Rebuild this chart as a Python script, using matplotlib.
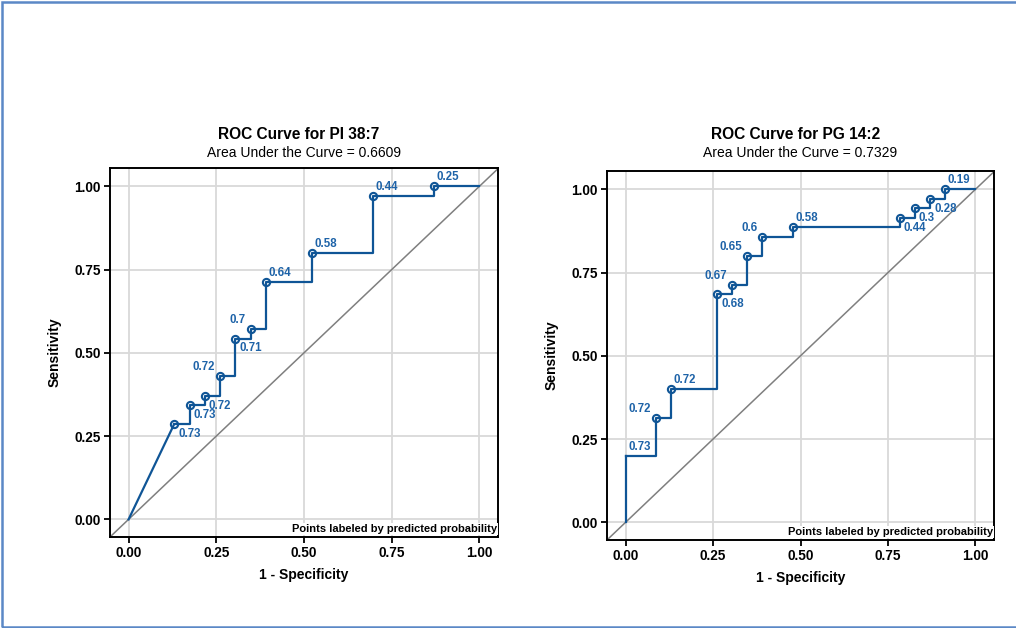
import numpy as np
import matplotlib.pyplot as plt
from matplotlib.patches import Rectangle

plt.rcParams['font.family'] = ['Liberation Sans', 'DejaVu Sans']

# ROC points: 1 - specificity, sensitivity, predicted-probability label
pi_fpr = [0.130, 0.174, 0.217, 0.261, 0.304, 0.348, 0.391, 0.522, 0.696, 0.870]
pi_sens = [0.286, 0.343, 0.371, 0.429, 0.543, 0.571, 0.714, 0.800, 0.971, 1.000]
pi_prob = ['0.73', '0.73', '0.72', '0.72', '0.71', '0.7', '0.64', '0.58', '0.44', '0.25']
pi_auc = 0.6609

pg_fpr = [0.000, 0.087, 0.130, 0.261, 0.304, 0.348, 0.391, 0.478, 0.783, 0.826, 0.870, 0.913]
pg_sens = [0.200, 0.314, 0.400, 0.686, 0.714, 0.800, 0.857, 0.886, 0.914, 0.943, 0.971, 1.000]
pg_prob = ['0.73', '0.72', '0.72', '0.68', '0.67', '0.65', '0.6', '0.58', '0.44', '0.3', '0.28', '0.19']
pg_auc = 0.7329

ticks = [0.0, 0.25, 0.5, 0.75, 1.0]
tick_labels = ['0.00', '0.25', '0.50', '0.75', '1.00']

# label placement (style only): ur = upper right, lr = lower right, ul = upper left
pi_pos = ['lr', 'lr', 'lr', 'ul', 'lr', 'ul', 'ur', 'ur', 'ur', 'ur']
pg_pos = ['ur', 'ul', 'ur', 'lr', 'ul', 'ul', 'ul', 'ur', 'lr', 'lr', 'lr', 'ur']
offsets = {'ur': ((2, 6.5), 'left'), 'lr': ((3, -7), 'left'), 'ul': ((-3.5, 6.5), 'right')}

line_col = '#0f5596'
lab_col = '#1e63a8'
W, H = 1016, 628


def roc_panel(rect, fpr, sens, probs, pos, title, auc):
    ax = fig.add_axes(rect)
    fpr = np.array(fpr)
    sens = np.array(sens)
    ax.axline((0, 0), (1, 1), color='#7f7f7f', lw=1.1, zorder=2)
    ax.plot([0, fpr[0]], [0, sens[0]], color=line_col, lw=1.6, zorder=3)
    ax.plot(np.append(fpr, 1.0), np.append(sens, sens[-1]), color=line_col,
            lw=1.6, drawstyle='steps-post', zorder=3)
    m = fpr > 0
    ax.plot(fpr[m], sens[m], 'o', ms=5.2, mfc='none', mec=line_col, mew=1.5, zorder=4)
    for x, y, s, p in zip(fpr, sens, probs, pos):
        off, ha = offsets[p]
        ax.annotate(s, (x, y), xytext=off, textcoords='offset points', ha=ha,
                    va='center', fontsize=8.3, fontweight='bold', color=lab_col, zorder=5)
    ax.set_xlim(-0.053, 1.053)
    ax.set_ylim(-0.053, 1.055)
    ax.set_xticks(ticks, tick_labels)
    ax.set_yticks(ticks, tick_labels)
    ax.tick_params(direction='out', length=4.5, width=1.3, pad=2, labelsize=9.8)
    for lb in ax.get_xticklabels() + ax.get_yticklabels():
        lb.set_fontweight('bold')
    ax.grid(True, color='#d9d9d9', lw=1.3)
    ax.set_axisbelow(True)
    for sp in ax.spines.values():
        sp.set_linewidth(1.4)
    ax.text(0.997, 0.008, 'Points labeled by predicted probability', transform=ax.transAxes,
            ha='right', va='bottom', fontsize=8.0, fontweight='bold', zorder=6,
            bbox=dict(facecolor='white', edgecolor='none', pad=1.0))
    ax.set_xlabel('1 - Specificity', fontsize=10, fontweight='bold', labelpad=6)
    ax.set_ylabel('Sensitivity', fontsize=10, fontweight='bold', labelpad=9.5)
    cx = rect[0] + rect[2] / 2
    fig.text(cx - 5 / W, 1 - 134 / H, title, ha='center', va='center',
             fontsize=11.2, fontweight='bold')
    fig.text(cx, 1 - 153 / H, f'Area Under the Curve = {auc:.4f}', ha='center',
             va='center', fontsize=10)
    return ax


fig = plt.figure(figsize=(W / 100, H / 100), dpi=100)
fig.patches.append(Rectangle((1.5 / W, 1 - 626.5 / H), 1.2, 625 / H, transform=fig.transFigure,
                             fill=False, edgecolor='#5b88c6', lw=1.8))

roc_panel([110 / W, 1 - 537 / H, 388 / W, 369 / H], pi_fpr, pi_sens, pi_prob, pi_pos,
          'ROC Curve for PI 38:7', pi_auc)
roc_panel([607 / W, 1 - 540 / H, 387 / W, 369 / H], pg_fpr, pg_sens, pg_prob, pg_pos,
          'ROC Curve for PG 14:2', pg_auc)

plt.savefig('out.png', dpi=100)
